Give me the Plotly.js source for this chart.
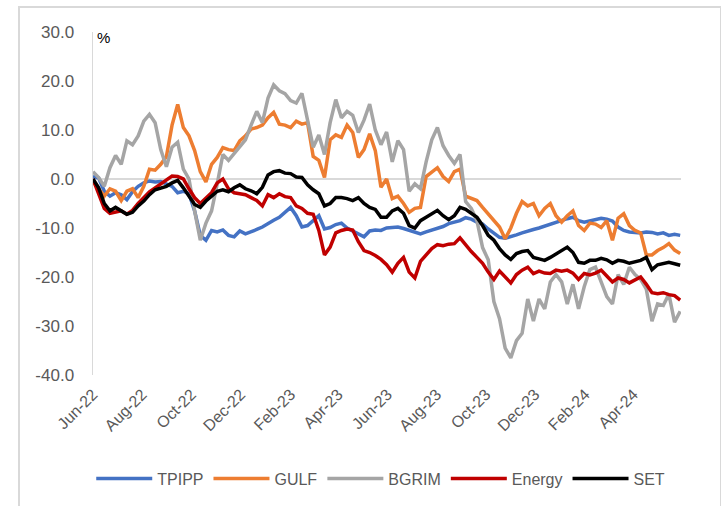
<!DOCTYPE html>
<html>
<head>
<meta charset="utf-8">
<script src="https://cdn.plot.ly/plotly-3.0.1.min.js"></script>
<style>
html,body{margin:0;padding:0;background:#fff;}
#chart{width:721px;height:506px;position:relative;}
#frame{position:absolute;left:18px;top:6px;width:700px;height:510px;border:2px solid #d9d9d9;pointer-events:none;}
</style>
</head>
<body>
<div id="wrap" style="position:relative;width:721px;height:506px;overflow:hidden;">
<div id="chart"></div>
<div id="frame"></div>
</div>
<script>
// Weekly observations starting 1 Jun 2022 (cumulative % change)
var startDate = '2022-06-01';
var stepMs = 7 * 24 * 3600 * 1000;

var TPIPP = [0.5,0.2,-2.5,-3.5,-2.8,-3.2,-4.2,-2.6,-1.5,-0.8,
  -0.4,-0.6,-0.5,-1.1,-1.5,-2.8,-2.5,-3,-6.5,-11.5,
  -12.5,-10.5,-10.8,-10.4,-11.5,-11.8,-10.6,-11.2,-10.8,-10.3,
  -9.8,-9,-8.4,-7.8,-6.8,-5.8,-7.5,-9.8,-9.5,-8.5,
  -7.5,-10.2,-9.9,-9.3,-9,-10,-10.6,-11.2,-11.8,-10.6,
  -10.4,-10.5,-10,-9.9,-9.8,-10.1,-10.5,-10.8,-11.2,-10.8,
  -10.4,-10,-9.7,-9.1,-8.8,-8.5,-7.9,-8.2,-8.8,-9.2,
  -10.2,-11,-11.9,-12.1,-11.8,-11.4,-11,-10.6,-10.3,-10,
  -9.6,-9.2,-8.9,-8.4,-8.1,-7.8,-8.5,-8.8,-8.5,-8.3,
  -8,-8.2,-8.6,-9.8,-10.5,-10.8,-10.9,-11,-10.8,-10.9,
  -11.2,-11,-11.5,-11.3,-11.5];

var GULF = [-0.5,-2,-3.5,-2,-2.5,-4.4,-2.5,-2,-3.8,-1.5,
  2,1.8,3,4.6,11,15.2,10.5,8.8,5.8,1.5,
  -0.6,3,4.4,6.4,6,5.8,7.8,8.8,10.2,10.5,
  11,12.5,13.6,11.2,11,10.5,11.8,11.2,11.5,4.6,
  3.8,0.3,8,9,8.5,11,9.5,4.4,6,9.2,
  5.8,-1.7,0,-4,-3.5,-5,-6.8,-6,-5.8,0.5,
  1.5,2.3,0.5,-0.5,1.5,2,-3.5,-4,-4.4,-5.8,
  -7.2,-8.5,-9.8,-12.2,-10,-7,-4.6,-5.5,-5,-7.5,
  -6,-5,-7.5,-8.8,-7.5,-6.5,-9.5,-10.5,-9,-9.2,
  -9.9,-8.5,-12.5,-8,-7.1,-9.5,-10.5,-11,-15.5,-15.5,
  -14.6,-14,-13.2,-14.5,-15.2];

var BGRIM = [1.5,0.3,-1.5,2.3,4.8,3,7.8,7,8.8,11.8,
  13.2,11.5,6,2.5,6.5,7.5,2,0,-6.5,-12.5,
  -9,-6.5,-1,5,3.8,5.2,6.4,8,11,13.8,
  11.5,16.5,19.2,18,17.4,16,15.5,17.5,12,6.5,
  9,5,11.5,16.2,12.5,13.8,13,9.5,12,15.3,
  10,7,9.6,3.5,7.8,6,-2.5,-1,-2,3.5,
  8,10.5,6.8,4.8,3.2,5,-4.6,-6,-8.5,-14,
  -16.5,-25,-28.5,-34.5,-36.5,-33,-31.5,-24.5,-29,-24.5,
  -26.5,-21,-19.5,-21,-25.5,-21.5,-26.5,-22,-18.5,-18,
  -21,-24,-25.5,-19.5,-21.5,-18,-19.5,-20.5,-22.5,-29,
  -25.5,-25.8,-23.5,-29.2,-27];

var Energy = [0,-3,-6,-7,-6.8,-6.5,-7.2,-6.4,-5,-3.8,
  -2.6,-1.8,-1,0,0.6,0.5,0,-2,-3.8,-5,
  -4,-2.8,-0.8,0,-2,-2.8,-3,-3.2,-3.8,-4.4,
  -5.5,-3.2,-3.8,-3,-3.6,-3.8,-5.5,-6,-7,-7.2,
  -10.5,-15.5,-13.9,-11,-10.5,-10.2,-10.4,-12.8,-14.6,-15,
  -15.6,-16.4,-17.5,-19,-17.2,-16,-19,-20.2,-16.8,-15.4,
  -14.2,-13.4,-13.6,-13.3,-13.2,-12,-13.5,-14.8,-16,-17.2,
  -19,-20.5,-18.8,-20,-21.2,-19.5,-18.6,-18,-19.3,-18.8,
  -19.2,-19.3,-18.6,-18.8,-18.6,-19.2,-20.5,-19.3,-19.6,-19.2,
  -18.6,-19.8,-21,-20.2,-20.5,-21.2,-20.6,-20,-21.5,-23.2,
  -23.4,-23.2,-23.6,-23.8,-24.7];

var SET = [0,-1.8,-5,-6.5,-5.8,-6.5,-7.2,-6.8,-5.5,-4.5,
  -3.2,-2.2,-1.8,-1.5,-0.8,-0.3,-1.8,-3.5,-5.2,-5.8,
  -4.5,-3.5,-2.5,-2.2,-2.6,-1.8,-1.2,-2,-2.4,-3,
  -1.7,0.8,1.5,1.7,1.2,1.1,0.4,0.3,-1.2,-2.2,
  -3,-5.5,-5,-3.8,-3.8,-4,-4.4,-3.8,-5,-5.8,
  -6.2,-7.8,-7.8,-6.5,-6,-7,-9.5,-10,-8.5,-7.8,
  -7.2,-6.4,-7.5,-8.3,-7.5,-5.8,-6.2,-7,-7.8,-9.5,
  -11.5,-12.5,-14.2,-15.5,-16.4,-15.2,-14.8,-14.6,-16,-16.3,
  -16.6,-16,-15.3,-14.6,-13.9,-15,-17,-17.2,-16.6,-16.6,
  -16.2,-16.5,-17.2,-16.6,-16.8,-17.2,-16.9,-16.6,-16,-18.5,
  -17.5,-17.2,-17,-17.3,-17.6];

var seriesNames = ['TPIPP','GULF','BGRIM','Energy','SET'];
var seriesValues = [TPIPP, GULF, BGRIM, Energy, SET];
var seriesColors = ['#4472C4','#ED7D31','#A5A5A5','#C00000','#000000'];

var yTickVals = [-40,-30,-20,-10,0,10,20,30];
var yTickText = ['-40.0','-30.0','-20.0','-10.0','0.0','10.0','20.0','30.0'];

var traces = seriesNames.map(function(n,i){
  return {
    type:'scatter', mode:'lines', name:n,
    x0:startDate, dx:stepMs, y:seriesValues[i],
    line:{color:seriesColors[i], width:3.5},
    hoverinfo:'skip'
  };
});

var fontFam = '"Liberation Sans", Arial, sans-serif';
var layout = {
  width:721, height:506,
  margin:{l:93, r:40, t:32, b:130},
  paper_bgcolor:'rgba(0,0,0,0)', plot_bgcolor:'rgba(0,0,0,0)',
  font:{family:fontFam, size:16, color:'#595959'},
  showlegend:true,
  legend:{orientation:'h', x:-0.003, xanchor:'left', y:-0.298, yanchor:'middle',
    font:{family:fontFam, size:16, color:'#595959'}, traceorder:'normal', itemwidth:56},
  xaxis:{type:'date', range:['2022-06-01','2024-05-30'], tick0:'2022-06-01', dtick:'M2',
    tickformat:'%b-%y', tickangle:-45, showgrid:false, showline:false, zeroline:false,
    ticks:'', ticklabelstandoff:6, tickfont:{family:fontFam, size:16, color:'#595959'}},
  yaxis:{range:[-40,30], tickvals:yTickVals, ticktext:yTickText, showgrid:false,
    zeroline:true, zerolinecolor:'#d9d9d9', zerolinewidth:1.5,
    showline:true, linecolor:'#d9d9d9', linewidth:1.5, ticks:'', ticklabelstandoff:14,
    tickfont:{family:fontFam, size:17, color:'#595959'}},
  annotations:[{xref:'paper', yref:'paper', x:0.004, y:0.985, xanchor:'left', yanchor:'middle',
    text:'%', showarrow:false, font:{family:fontFam, size:15, color:'#000000'}}]
};

Plotly.newPlot('chart', traces, layout, {staticPlot:true, displayModeBar:false});
</script>
</body>
</html>
